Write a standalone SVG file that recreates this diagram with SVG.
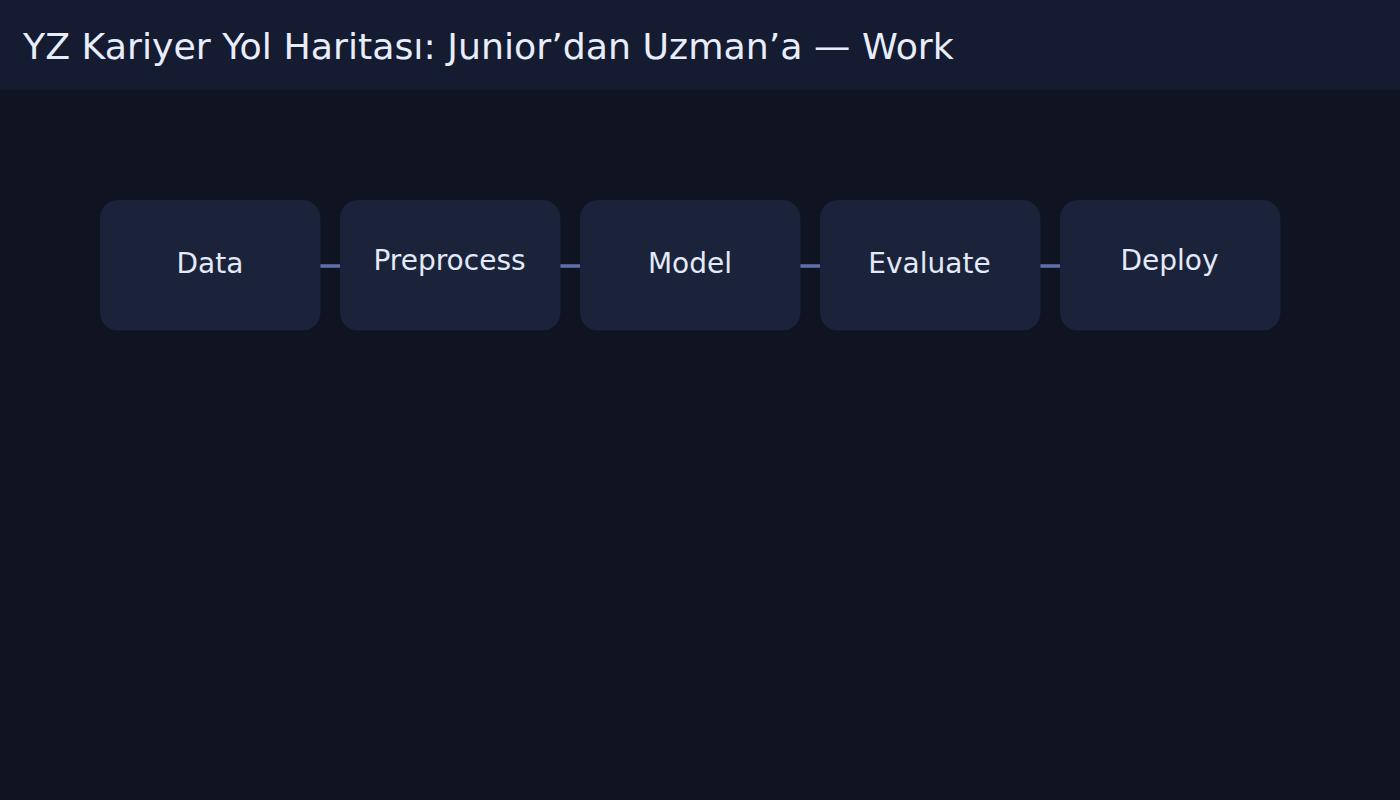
<svg xmlns="http://www.w3.org/2000/svg" width="1400" height="800" viewBox="0 0 1400 800">
<style>
.node rect{fill:#1a2339;}
.node text{fill:#e3e9f8;font-family:"DejaVu Sans",sans-serif;font-size:28px;text-anchor:middle;}
.conn line{stroke:#6170ab;stroke-width:3.5;}
.title{fill:#e8edfb;font-family:"DejaVu Sans",sans-serif;font-size:36.3px;}
</style>
<rect x="0" y="0" width="1400" height="800" fill="#0f1322"/>
<rect x="0" y="0" width="1400" height="90" fill="#151b30"/>
<text class="title" x="23" y="59">YZ Kariyer Yol Haritası: Junior’dan Uzman’a — Work</text>
<g id="connectors" class="conn">
<line x1="320" y1="266" x2="340" y2="266"/>
<line x1="560" y1="266" x2="580" y2="266"/>
<line x1="800" y1="266" x2="820" y2="266"/>
<line x1="1040" y1="266" x2="1060" y2="266"/>
</g>
<g id="node-data" class="node"><rect x="100" y="200" width="220.5" height="130.5" rx="18"/><text x="210" y="273">Data</text></g>
<g id="node-preprocess" class="node"><rect x="340" y="200" width="220.5" height="130.5" rx="18"/><text x="449.5" y="270">Preprocess</text></g>
<g id="node-model" class="node"><rect x="580" y="200" width="220.5" height="130.5" rx="18"/><text x="690" y="273">Model</text></g>
<g id="node-evaluate" class="node"><rect x="820" y="200" width="220.5" height="130.5" rx="18"/><text x="929.5" y="273">Evaluate</text></g>
<g id="node-deploy" class="node"><rect x="1060" y="200" width="220.5" height="130.5" rx="18"/><text x="1169.5" y="270">Deploy</text></g>
</svg>
